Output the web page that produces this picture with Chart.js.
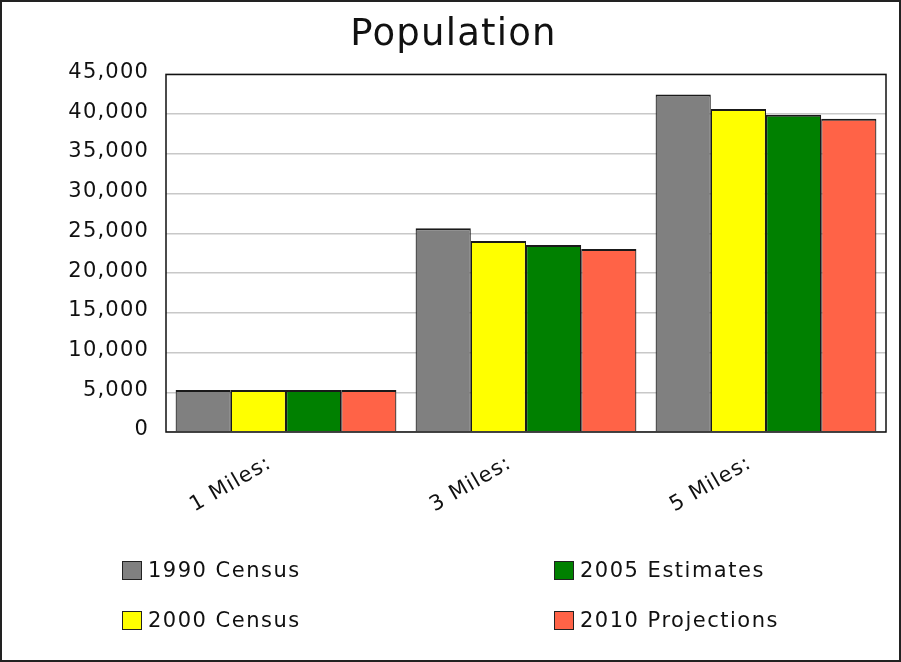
<!DOCTYPE html>
<html>
<head>
<meta charset="utf-8">
<script src="https://cdn.jsdelivr.net/npm/chart.js@4/dist/chart.umd.min.js"></script>
<style>
  html, body { margin: 0; padding: 0; background: #fff; }
  #wrap { position: relative; width: 901px; height: 662px; }
  #chart { position: absolute; left: 0; top: 0; }
  .legend-item { position: absolute; display: flex; align-items: center;
    font-family: "DejaVu Sans", sans-serif; font-size: 21px; letter-spacing: 1.5px;
    color: #111; white-space: nowrap; }
  .legend-box { width: 20px; height: 19px; border: 1.5px solid #222; box-sizing: border-box; margin-right: 6px; }
</style>
</head>
<body>
<div id="wrap">
  <canvas id="chart" width="901" height="662"></canvas>
  <div id="legend"></div>
</div>
<script>
// Distance rings around the site
const categories = ['1 Miles:', '3 Miles:', '5 Miles:'];

// Population per ring
const census1990 = [5270, 25640, 42480];
const census2000 = [5270, 24050, 40640];
const estimates2005 = [5270, 23540, 39930];
const projections2010 = [5270, 23040, 39430];

const seriesNames = ['1990 Census', '2000 Census', '2005 Estimates', '2010 Projections'];
const seriesColors = ['#808080', '#ffff00', '#008000', '#ff6347'];
const seriesValues = [census1990, census2000, estimates2005, projections2010];

const yTicks = { min: 0, max: 45000, step: 5000 };

const FONT = '"DejaVu Sans", sans-serif';
const SPACING = '1.2px';

// Slightly wider lettering for every text drawn on the canvas
const spacingPlugin = {
  id: 'spacing',
  beforeLayout(chart) { chart.ctx.letterSpacing = SPACING; },
  beforeDraw(chart) { chart.ctx.letterSpacing = SPACING; }
};

// Outer frame and plot-area box
const framePlugin = {
  id: 'frame',
  afterDatasetsDraw(chart) {
    const { ctx, chartArea: a } = chart;
    ctx.save();
    ctx.strokeStyle = '#111';
    ctx.lineWidth = 1.5;
    ctx.strokeRect(a.left, a.top, a.right - a.left, a.bottom - a.top);
    ctx.restore();
  },
  afterDraw(chart) {
    const { ctx, width, height } = chart;
    ctx.save();
    ctx.strokeStyle = '#222';
    ctx.lineWidth = 2;
    ctx.strokeRect(1, 1, width - 2, height - 2);
    ctx.restore();
  }
};

const PAD_LEFT = 21;

new Chart(document.getElementById('chart'), {
  type: 'bar',
  data: {
    labels: categories,
    datasets: seriesNames.map((name, i) => ({
      label: name,
      data: seriesValues[i],
      backgroundColor: seriesColors[i],
      borderColor: '#1a1a1a',
      borderWidth: { top: 2, left: 1.2, right: 1.2, bottom: 0 },
      borderSkipped: false,
      categoryPercentage: 0.92,
      barPercentage: 1.0
    }))
  },
  options: {
    responsive: false,
    animation: false,
    layout: { padding: { top: 0, left: PAD_LEFT, right: 15, bottom: 130 } },
    plugins: {
      legend: { display: false },
      tooltip: { enabled: false },
      title: {
        display: true,
        text: 'Population',
        color: '#111',
        font: { family: FONT, size: 37, weight: 'normal' },
        padding: { top: 13, bottom: 17 }
      }
    },
    scales: {
      x: {
        grid: { display: false, drawTicks: false },
        border: { display: false },
        ticks: {
          color: '#111',
          font: { family: FONT, size: 21 },
          minRotation: 30,
          maxRotation: 30,
          padding: 19,
          labelOffset: -16
        },
        afterFit(scale) { scale.height = 100; }
      },
      y: {
        min: yTicks.min,
        max: yTicks.max,
        grid: { color: '#c8c8c8', lineWidth: 1.5, drawTicks: false },
        border: { display: false },
        ticks: {
          stepSize: yTicks.step,
          color: '#111',
          font: { family: FONT, size: 21 },
          padding: 17,
          labelOffset: -2
        },
        afterFit(scale) { scale.width = 166 - PAD_LEFT; }
      }
    }
  },
  plugins: [spacingPlugin, framePlugin]
});

// Two-column legend, filled column by column
const legendPos = [
  { x: 122, y: 571 }, { x: 122, y: 621 },
  { x: 554, y: 571 }, { x: 554, y: 621 }
];
const legend = document.getElementById('legend');
seriesNames.forEach((name, i) => {
  const item = document.createElement('div');
  item.className = 'legend-item';
  item.style.left = legendPos[i].x + 'px';
  item.style.top = (legendPos[i].y - 13) + 'px';
  const box = document.createElement('span');
  box.className = 'legend-box';
  box.style.background = seriesColors[i];
  const txt = document.createElement('span');
  txt.textContent = name;
  item.appendChild(box);
  item.appendChild(txt);
  legend.appendChild(item);
});
</script>
</body>
</html>
